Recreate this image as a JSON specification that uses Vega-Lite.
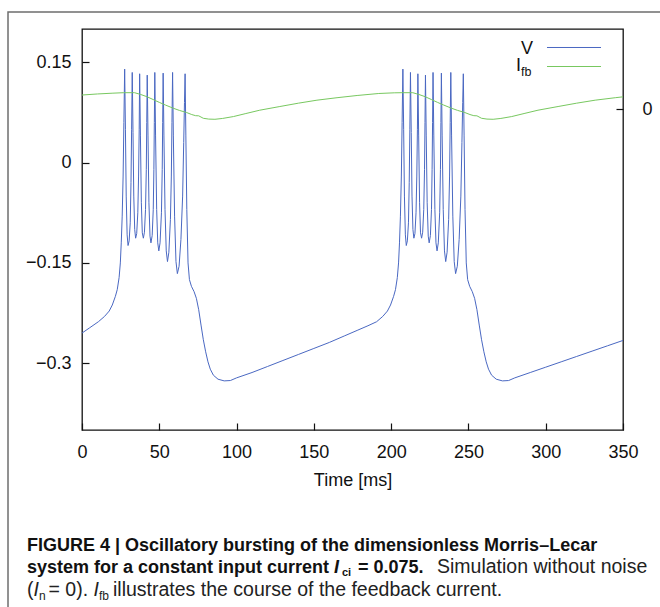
{
"$schema": "https://vega.github.io/schema/vega-lite/v6.json",
"width": 541, "height": 401,
"autosize": {"type": "none"},
"padding": {"left": 82, "top": 29, "right": 37, "bottom": 177},
"background": "white",
"config": {
  "view": {"stroke": "#111", "strokeWidth": 1.3},
  "font": "Liberation Sans",
  "axis": {"labelFont": "Liberation Sans", "labelFontSize": 18, "labelColor": "#111", "tickColor": "#111", "tickSize": -7, "tickWidth": 1.2, "domain": false, "grid": false, "labelFlush": false, "titleFont": "Liberation Sans", "titleFontSize": 18, "titleFontWeight": "normal", "titleColor": "#111"}
},
"datasets": {
  "V": [
{"t":0,"V":-0.255},{"t":5,"V":-0.247},{"t":10.6,"V":-0.238},{"t":14.6,"V":-0.23},{"t":17.6,"V":-0.222},{"t":19.6,"V":-0.213},{"t":21.6,"V":-0.2},{"t":22.8,"V":-0.19},{"t":24.0,"V":-0.172},{"t":24.8,"V":-0.15},{"t":25.4,"V":-0.12},{"t":26.0,"V":-0.08},{"t":26.6,"V":-0.02},{"t":27.1,"V":0.06},{"t":27.6,"V":0.14},
{"t":28.1,"V":0.05},{"t":28.6,"V":-0.05},{"t":29.2,"V":-0.108},{"t":29.8,"V":-0.124},{"t":30.5,"V":-0.117},{"t":31.2,"V":-0.09},{"t":31.7,"V":-0.03},{"t":32.1,"V":0.05},{"t":32.5,"V":0.135},
{"t":33.0,"V":0.045},{"t":33.5,"V":-0.05},{"t":34.1,"V":-0.1},{"t":34.7,"V":-0.113},{"t":35.4,"V":-0.106},{"t":36.1,"V":-0.075},{"t":36.6,"V":-0.02},{"t":37.0,"V":0.05},{"t":37.3,"V":0.133},
{"t":37.8,"V":0.04},{"t":38.4,"V":-0.06},{"t":39.0,"V":-0.105},{"t":39.7,"V":-0.113},{"t":40.4,"V":-0.104},{"t":41.1,"V":-0.07},{"t":41.6,"V":-0.01},{"t":41.9,"V":0.06},{"t":42.2,"V":0.131},
{"t":42.7,"V":0.04},{"t":43.3,"V":-0.06},{"t":44.0,"V":-0.11},{"t":44.6,"V":-0.12},{"t":45.4,"V":-0.109},{"t":46.1,"V":-0.07},{"t":46.5,"V":-0.01},{"t":46.8,"V":0.06},{"t":47.1,"V":0.135},
{"t":47.6,"V":0.04},{"t":48.3,"V":-0.07},{"t":49.0,"V":-0.12},{"t":49.7,"V":-0.132},{"t":50.5,"V":-0.12},{"t":51.4,"V":-0.075},{"t":51.9,"V":-0.01},{"t":52.2,"V":0.06},{"t":52.5,"V":0.134},
{"t":53.0,"V":0.04},{"t":53.7,"V":-0.07},{"t":54.5,"V":-0.132},{"t":55.3,"V":-0.148},{"t":56.2,"V":-0.134},{"t":57.2,"V":-0.085},{"t":57.8,"V":-0.02},{"t":58.2,"V":0.06},{"t":58.6,"V":0.135},
{"t":59.1,"V":0.04},{"t":59.9,"V":-0.08},{"t":60.8,"V":-0.148},{"t":61.7,"V":-0.166},{"t":62.8,"V":-0.155},{"t":64.0,"V":-0.115},{"t":65.1,"V":-0.05},{"t":65.8,"V":0.03},{"t":66.3,"V":0.09},{"t":66.7,"V":0.133},
{"t":67.2,"V":0.04},{"t":67.8,"V":-0.07},{"t":68.6,"V":-0.15},{"t":69.5,"V":-0.175},{"t":70.8,"V":-0.185},{"t":72.5,"V":-0.193},{"t":74.0,"V":-0.203},{"t":75.5,"V":-0.22},{"t":77.0,"V":-0.243},{"t":78.5,"V":-0.265},{"t":80.0,"V":-0.283},{"t":81.5,"V":-0.298},{"t":83.0,"V":-0.309},{"t":85.0,"V":-0.318},{"t":88.0,"V":-0.324},{"t":92.0,"V":-0.3265},{"t":96.0,"V":-0.326},{"t":100,"V":-0.322},{"t":110,"V":-0.314},{"t":120,"V":-0.305},{"t":130,"V":-0.296},{"t":140,"V":-0.287},{"t":150,"V":-0.278},{"t":160,"V":-0.269},{"t":170,"V":-0.259},{"t":178,"V":-0.251},
{"t":185,"V":-0.244},{"t":190.6,"V":-0.238},{"t":194.6,"V":-0.23},{"t":197.6,"V":-0.222},{"t":199.6,"V":-0.213},{"t":201.6,"V":-0.2},{"t":202.8,"V":-0.19},{"t":204.0,"V":-0.172},{"t":204.8,"V":-0.15},{"t":205.4,"V":-0.12},{"t":206.0,"V":-0.08},{"t":206.6,"V":-0.02},{"t":207.1,"V":0.06},{"t":207.6,"V":0.14},
{"t":208.1,"V":0.05},{"t":208.6,"V":-0.05},{"t":209.2,"V":-0.108},{"t":209.8,"V":-0.124},{"t":210.5,"V":-0.117},{"t":211.2,"V":-0.09},{"t":211.7,"V":-0.03},{"t":212.1,"V":0.05},{"t":212.5,"V":0.135},
{"t":213.0,"V":0.045},{"t":213.5,"V":-0.05},{"t":214.1,"V":-0.1},{"t":214.7,"V":-0.113},{"t":215.4,"V":-0.106},{"t":216.1,"V":-0.075},{"t":216.6,"V":-0.02},{"t":217.0,"V":0.05},{"t":217.3,"V":0.133},
{"t":217.8,"V":0.04},{"t":218.4,"V":-0.06},{"t":219.0,"V":-0.105},{"t":219.7,"V":-0.113},{"t":220.4,"V":-0.104},{"t":221.1,"V":-0.07},{"t":221.6,"V":-0.01},{"t":221.9,"V":0.06},{"t":222.2,"V":0.131},
{"t":222.7,"V":0.04},{"t":223.3,"V":-0.06},{"t":224.0,"V":-0.11},{"t":224.6,"V":-0.12},{"t":225.4,"V":-0.109},{"t":226.1,"V":-0.07},{"t":226.5,"V":-0.01},{"t":226.8,"V":0.06},{"t":227.1,"V":0.135},
{"t":227.6,"V":0.04},{"t":228.3,"V":-0.07},{"t":229.0,"V":-0.12},{"t":229.7,"V":-0.132},{"t":230.5,"V":-0.12},{"t":231.4,"V":-0.075},{"t":231.9,"V":-0.01},{"t":232.2,"V":0.06},{"t":232.5,"V":0.134},
{"t":233.0,"V":0.04},{"t":233.7,"V":-0.07},{"t":234.5,"V":-0.132},{"t":235.3,"V":-0.148},{"t":236.2,"V":-0.134},{"t":237.2,"V":-0.085},{"t":237.8,"V":-0.02},{"t":238.2,"V":0.06},{"t":238.6,"V":0.135},
{"t":239.1,"V":0.04},{"t":239.9,"V":-0.08},{"t":240.8,"V":-0.148},{"t":241.7,"V":-0.166},{"t":242.8,"V":-0.155},{"t":244.0,"V":-0.115},{"t":245.1,"V":-0.05},{"t":245.8,"V":0.03},{"t":246.3,"V":0.09},{"t":246.7,"V":0.133},
{"t":247.2,"V":0.04},{"t":247.8,"V":-0.07},{"t":248.6,"V":-0.15},{"t":249.5,"V":-0.175},{"t":250.8,"V":-0.185},{"t":252.5,"V":-0.193},{"t":254.0,"V":-0.203},{"t":255.5,"V":-0.22},{"t":257.0,"V":-0.243},{"t":258.5,"V":-0.265},{"t":260.0,"V":-0.283},{"t":261.5,"V":-0.298},{"t":263.0,"V":-0.309},{"t":265.0,"V":-0.318},{"t":268.0,"V":-0.324},{"t":272.0,"V":-0.3265},{"t":276.0,"V":-0.326},{"t":280,"V":-0.322},{"t":290,"V":-0.314},{"t":300,"V":-0.306},{"t":310,"V":-0.298},{"t":320,"V":-0.29},{"t":330,"V":-0.282},{"t":340,"V":-0.274},{"t":350,"V":-0.266}
  ],
  "Ifb": [
{"t":0,"I":0.0212},{"t":10,"I":0.0228},{"t":20,"I":0.024},{"t":27,"I":0.0247},{"t":34,"I":0.0247},{"t":38,"I":0.022},{"t":42,"I":0.0187},{"t":46,"I":0.0145},{"t":50,"I":0.0102},{"t":54,"I":0.0062},{"t":59,"I":0.0015},{"t":63,"I":-0.0018},{"t":67.7,"I":-0.005},{"t":71,"I":-0.008},{"t":73.5,"I":-0.0097},{"t":75.5,"I":-0.0099},{"t":78.5,"I":-0.0136},{"t":82,"I":-0.0148},{"t":86,"I":-0.0151},{"t":91,"I":-0.0138},{"t":98,"I":-0.011},{"t":106,"I":-0.0065},{"t":115,"I":-0.0015},{"t":128,"I":0.004},{"t":140,"I":0.009},{"t":152,"I":0.0135},{"t":165,"I":0.0172},{"t":178,"I":0.0205},{"t":192,"I":0.0235},{"t":202,"I":0.0245},{"t":207,"I":0.0247},{"t":214,"I":0.0247},
{"t":218,"I":0.022},{"t":222,"I":0.0187},{"t":226,"I":0.0145},{"t":230,"I":0.0102},{"t":234,"I":0.0062},{"t":239,"I":0.0015},{"t":243,"I":-0.0018},{"t":247.7,"I":-0.005},{"t":251,"I":-0.008},{"t":253.5,"I":-0.0097},{"t":255.5,"I":-0.0099},{"t":258.5,"I":-0.0136},{"t":262,"I":-0.0148},{"t":266,"I":-0.0151},{"t":271,"I":-0.0138},{"t":278,"I":-0.011},{"t":286,"I":-0.0065},{"t":295,"I":-0.0015},{"t":308,"I":0.004},{"t":320,"I":0.009},{"t":332,"I":0.0135},{"t":345,"I":0.0172},{"t":350,"I":0.0185}
  ]
},
"layer": [
  {
    "layer": [
      {
        "data": {"name": "V"},
        "mark": {"type": "line", "color": "#4a68c2", "strokeWidth": 1, "strokeJoin": "round"},
        "encoding": {
          "x": {"field": "t", "type": "quantitative", "scale": {"domain": [0, 350], "nice": false, "zero": false}, "axis": {"values": [0, 50, 100, 150, 200, 250, 300, 350], "labelPadding": 20, "title": "Time [ms]", "titlePadding": 10}},
          "y": {"field": "V", "type": "quantitative", "scale": {"domain": [-0.4, 0.2], "nice": false, "zero": false}, "axis": {"values": [0.15, 0, -0.15, -0.3], "format": "~g", "labelPadding": 18, "title": null}}
        }
      },
      {
        "data": {"values": [{}]},
        "mark": {"type": "rect", "fill": null, "filled": false, "stroke": "#6e6e6e", "strokeWidth": 1.5},
        "encoding": {
          "x": {"datum": -47.87, "type": "quantitative"}, "x2": {"datum": 399.8},
          "y": {"datum": 0.22544, "type": "quantitative"}, "y2": {"datum": -0.71421}
        }
      },
      {
        "data": {"values": [{}]},
        "mark": {"type": "rule", "color": "#4a68c2", "strokeWidth": 1},
        "encoding": {"x": {"datum": 300.83, "type": "quantitative"}, "x2": {"datum": 335.77}, "y": {"datum": 0.17232, "type": "quantitative"}}
      },
      {
        "data": {"values": [{}]},
        "mark": {"type": "rule", "color": "#78c860", "strokeWidth": 1},
        "encoding": {"x": {"datum": 300.83, "type": "quantitative"}, "x2": {"datum": 335.77}, "y": {"datum": 0.14389, "type": "quantitative"}}
      },
      {
        "data": {"values": [{}]},
        "mark": {"type": "text", "text": "V", "fontSize": 18, "align": "right", "baseline": "alphabetic", "color": "#111"},
        "encoding": {"x": {"datum": 291.77, "type": "quantitative"}, "y": {"datum": 0.16334, "type": "quantitative"}}
      },
      {
        "data": {"values": [{}]},
        "mark": {"type": "text", "text": "I", "fontSize": 18, "align": "left", "baseline": "alphabetic", "color": "#111"},
        "encoding": {"x": {"datum": 280.78, "type": "quantitative"}, "y": {"datum": 0.13716, "type": "quantitative"}}
      },
      {
        "data": {"values": [{}]},
        "mark": {"type": "text", "text": "fb", "fontSize": 12.5, "align": "left", "baseline": "alphabetic", "color": "#111"},
        "encoding": {"x": {"datum": 284.01, "type": "quantitative"}, "y": {"datum": 0.12967, "type": "quantitative"}}
      },
      {
        "data": {"values": [{}]},
        "mark": {"type": "text", "text": "FIGURE 4 | Oscillatory bursting of the dimensionless Morris–Lecar", "fontSize": 18, "fontWeight": "bold", "align": "left", "baseline": "alphabetic", "color": "#111"},
        "encoding": {"x": {"datum": -35.582, "type": "quantitative"}, "y": {"datum": -0.58105, "type": "quantitative"}}
      },
      {
        "data": {"values": [{}]},
        "mark": {"type": "text", "text": "system for a constant input current", "fontSize": 18, "fontWeight": "bold", "align": "left", "baseline": "alphabetic", "color": "#111"},
        "encoding": {"x": {"datum": -35.582, "type": "quantitative"}, "y": {"datum": -0.61471, "type": "quantitative"}}
      },
      {
        "data": {"values": [{}]},
        "mark": {"type": "text", "text": "I", "fontSize": 18, "fontWeight": "bold", "fontStyle": "italic", "align": "left", "baseline": "alphabetic", "color": "#111"},
        "encoding": {"x": {"datum": 163.031, "type": "quantitative"}, "y": {"datum": -0.61471, "type": "quantitative"}}
      },
      {
        "data": {"values": [{}]},
        "mark": {"type": "text", "text": "ci", "fontSize": 11, "fontWeight": "bold", "align": "left", "baseline": "alphabetic", "color": "#111"},
        "encoding": {"x": {"datum": 168.2, "type": "quantitative"}, "y": {"datum": -0.6192, "type": "quantitative"}}
      },
      {
        "data": {"values": [{}]},
        "mark": {"type": "text", "text": "= 0.075.", "fontSize": 18, "fontWeight": "bold", "align": "left", "baseline": "alphabetic", "color": "#111"},
        "encoding": {"x": {"datum": 178.56, "type": "quantitative"}, "y": {"datum": -0.61471, "type": "quantitative"}}
      },
      {
        "data": {"values": [{}]},
        "mark": {"type": "text", "text": "Simulation without noise", "fontSize": 19.5, "align": "left", "baseline": "alphabetic", "color": "#222"},
        "encoding": {"x": {"datum": 229.667, "type": "quantitative"}, "y": {"datum": -0.61471, "type": "quantitative"}}
      },
      {
        "data": {"values": [{}]},
        "mark": {"type": "text", "text": "(", "fontSize": 19.5, "align": "left", "baseline": "alphabetic", "color": "#222"},
        "encoding": {"x": {"datum": -35.582, "type": "quantitative"}, "y": {"datum": -0.64838, "type": "quantitative"}}
      },
      {
        "data": {"values": [{}]},
        "mark": {"type": "text", "text": "I", "fontSize": 19.5, "fontStyle": "italic", "align": "left", "baseline": "alphabetic", "color": "#222"},
        "encoding": {"x": {"datum": -31.378, "type": "quantitative"}, "y": {"datum": -0.64838, "type": "quantitative"}}
      },
      {
        "data": {"values": [{}]},
        "mark": {"type": "text", "text": "n", "fontSize": 12, "align": "left", "baseline": "alphabetic", "color": "#222"},
        "encoding": {"x": {"datum": -27.819, "type": "quantitative"}, "y": {"datum": -0.65436, "type": "quantitative"}}
      },
      {
        "data": {"values": [{}]},
        "mark": {"type": "text", "text": "= 0).", "fontSize": 19.5, "align": "left", "baseline": "alphabetic", "color": "#222"},
        "encoding": {"x": {"datum": -21.673, "type": "quantitative"}, "y": {"datum": -0.64838, "type": "quantitative"}}
      },
      {
        "data": {"values": [{}]},
        "mark": {"type": "text", "text": "I", "fontSize": 19.5, "fontStyle": "italic", "align": "left", "baseline": "alphabetic", "color": "#222"},
        "encoding": {"x": {"datum": 7.44, "type": "quantitative"}, "y": {"datum": -0.64838, "type": "quantitative"}}
      },
      {
        "data": {"values": [{}]},
        "mark": {"type": "text", "text": "fb", "fontSize": 12, "align": "left", "baseline": "alphabetic", "color": "#222"},
        "encoding": {"x": {"datum": 10.998, "type": "quantitative"}, "y": {"datum": -0.65436, "type": "quantitative"}}
      },
      {
        "data": {"values": [{}]},
        "mark": {"type": "text", "text": "illustrates the course of the feedback current.", "fontSize": 19.5, "align": "left", "baseline": "alphabetic", "color": "#222"},
        "encoding": {"x": {"datum": 20.055, "type": "quantitative"}, "y": {"datum": -0.64838, "type": "quantitative"}}
      }
    ]
  },
  {
    "data": {"name": "Ifb"},
    "mark": {"type": "line", "color": "#78c860", "strokeWidth": 1, "strokeJoin": "round"},
    "encoding": {
      "x": {"field": "t", "type": "quantitative"},
      "y": {"field": "I", "type": "quantitative", "scale": {"domain": [-0.48, 0.12], "nice": false, "zero": false}, "axis": {"orient": "right", "values": [0], "format": "~g", "labelPadding": 26, "title": null}}
    }
  }
],
"resolve": {"scale": {"y": "independent"}}
}
